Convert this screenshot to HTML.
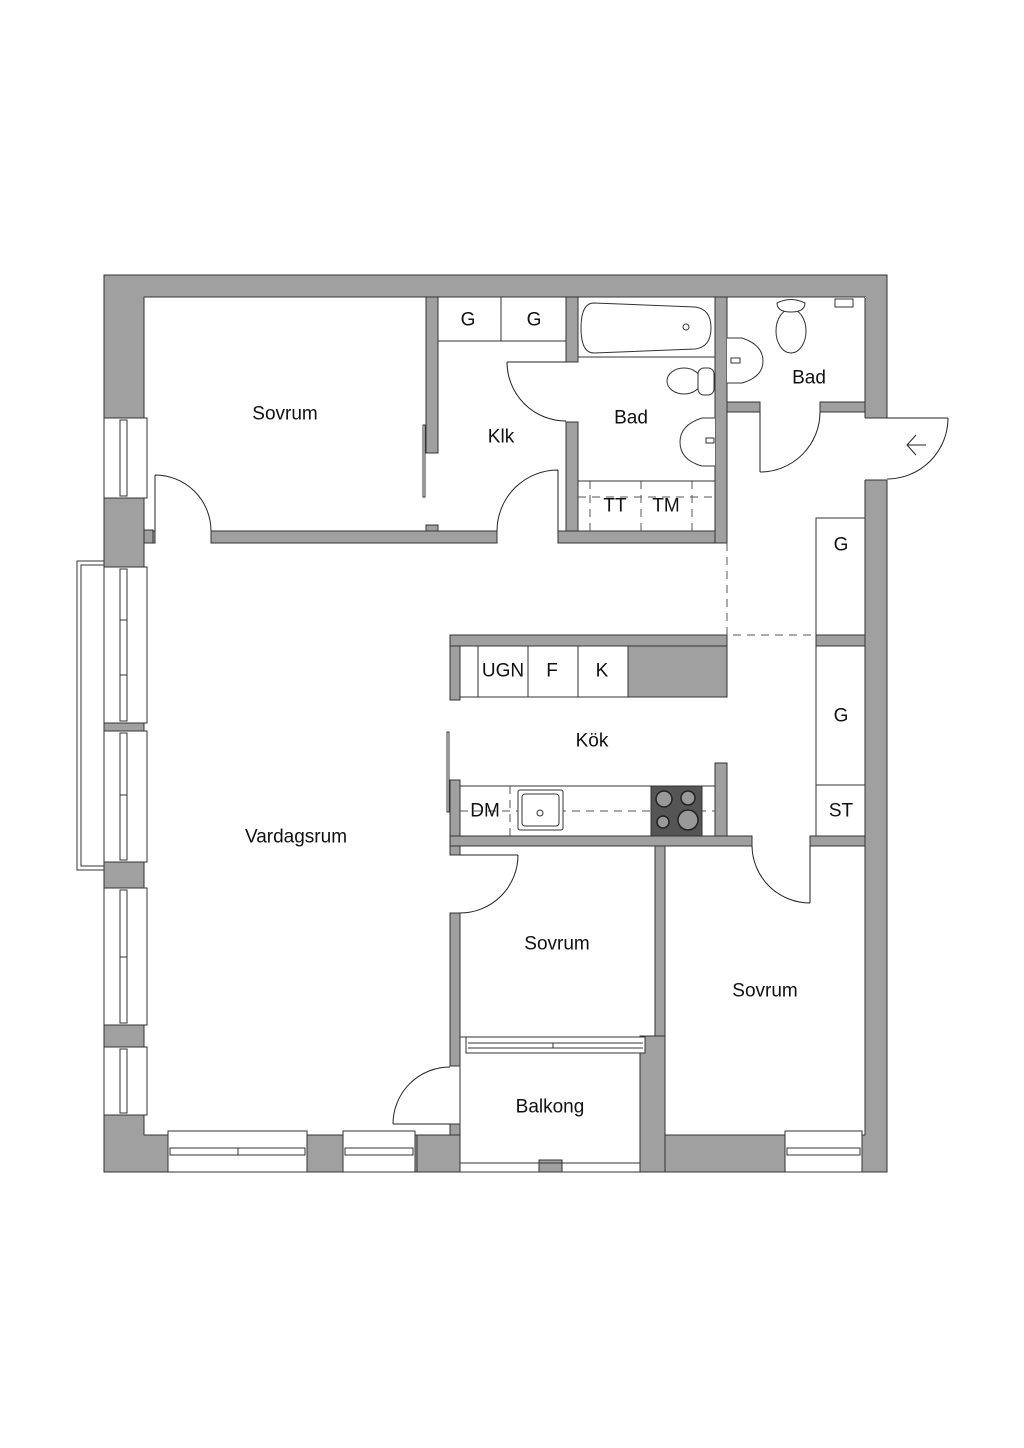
<!DOCTYPE html>
<html><head><meta charset="utf-8"><style>
html,body{margin:0;padding:0;background:#fff}
svg{display:block}
text{font-family:"Liberation Sans","DejaVu Sans",sans-serif;font-size:19px;fill:#111;text-anchor:middle;dominant-baseline:central}
</style></head><body>
<svg width="1024" height="1448" viewBox="0 0 1024 1448" xmlns="http://www.w3.org/2000/svg">
<g stroke="#333" stroke-width="1">
<!-- outer walls -->
<rect x="104" y="275" width="783" height="897" fill="#a0a0a0"/>
<rect x="144" y="297" width="721" height="838" fill="#fff"/>
<rect x="865" y="297" width="1" height="1" fill="#fff" stroke="none"/>
<!-- balcony area -->
<rect x="460" y="1037" width="180" height="135" fill="#fff"/>
<!-- entrance opening -->
<rect x="864" y="418" width="24" height="62" fill="#fff" stroke="none"/>
<line x1="865" y1="418" x2="887" y2="418"/><line x1="865" y1="480" x2="887" y2="480"/>
<!-- interior walls -->
<g fill="#a0a0a0">
<rect x="426" y="297" width="12" height="156"/>
<rect x="211" y="531" width="286" height="12"/>
<rect x="426" y="525" width="12" height="6"/>
<rect x="144" y="531" width="11" height="12"/>
<rect x="566" y="297" width="12" height="65"/>
<rect x="566" y="422" width="12" height="121"/>
<rect x="558" y="531" width="169" height="12"/>
<rect x="715" y="297" width="12" height="246"/>
<rect x="727" y="402" width="33" height="10"/>
<rect x="820" y="402" width="45" height="10"/>
<rect x="450" y="635" width="277" height="11"/>
<rect x="450" y="646" width="10" height="54"/>
<rect x="628" y="646" width="99" height="51"/>
<rect x="816" y="635" width="49" height="11"/>
<rect x="450" y="780" width="10" height="75"/>
<rect x="715" y="763" width="12" height="73"/>
<rect x="450" y="836" width="302" height="10"/>
<rect x="810" y="836" width="55" height="10"/>
<rect x="450" y="913" width="10" height="153"/>
<rect x="450" y="1124" width="10" height="48"/>
<rect x="417" y="1135" width="43" height="37"/>
<rect x="655" y="846" width="10" height="190"/>
<rect x="640" y="1036" width="25" height="136"/>
<rect x="539" y="1160" width="23" height="12"/>
</g>
<!-- balcony window & railing -->
<rect x="466" y="1037" width="179" height="16" fill="#fff"/>
<line x1="468" y1="1043" x2="643" y2="1043"/><line x1="468" y1="1048" x2="643" y2="1048"/><line x1="553" y1="1043" x2="553" y2="1048"/>
<line x1="460" y1="1163" x2="640" y2="1163"/>
<!-- left windows -->
<g fill="#fff">
<rect x="104" y="418" width="43" height="80"/>
<rect x="104" y="567" width="43" height="156"/>
<rect x="104" y="731" width="43" height="131"/>
<rect x="104" y="888" width="43" height="137"/>
<rect x="104" y="1047" width="43" height="68"/>
<rect x="120" y="420" width="7" height="76"/>
<rect x="120" y="569" width="7" height="152"/>
<rect x="120" y="733" width="7" height="127"/>
<rect x="120" y="890" width="7" height="133"/>
<rect x="120" y="1049" width="7" height="64"/>
<rect x="144" y="530" width="9" height="13" fill="#a0a0a0"/>
</g>
<g>
<line x1="120" y1="620" x2="127" y2="620"/><line x1="120" y1="675" x2="127" y2="675"/>
<line x1="120" y1="795" x2="127" y2="795"/>
<line x1="120" y1="957" x2="127" y2="957"/>
</g>
<!-- outside frame -->
<polyline points="104,561 77,561 77,870 104,870" fill="none"/>
<polyline points="104,565 81,565 81,866 104,866" fill="none"/>
<!-- bottom windows -->
<g fill="#fff">
<rect x="168" y="1131" width="139" height="41"/>
<rect x="343" y="1131" width="72" height="41"/>
<rect x="785" y="1131" width="77" height="41"/>
</g>
<g fill="none">
<rect x="170" y="1148" width="135" height="7"/><line x1="238" y1="1148" x2="238" y2="1155"/>
<rect x="345" y="1148" width="68" height="7"/>
<rect x="787" y="1148" width="73" height="7"/>
</g>
<!-- doors -->
<g fill="none" stroke="#222">
<path d="M155,475 L155,531 M155,475 A56,56 0 0 1 211,531"/>
<path d="M558,470 L558,531 M558,470 A61,61 0 0 0 497,531"/>
<path d="M507,362 L566,362 M507,362 A59,59 0 0 0 566,421"/>
<path d="M760,412 L760,472 M760,472 A60,60 0 0 0 820,412"/>
<path d="M887,418 L948,418 M948,418 A61,61 0 0 1 887,479"/>
<path d="M810,846 L810,903 M810,903 A58,58 0 0 1 752,846"/>
<path d="M460,855 L518,855 M518,855 A58,58 0 0 1 460,913"/>
<path d="M393,1124 L450,1124 M393,1124 A57,57 0 0 1 450,1067"/>
<path d="M908,445 L926,445 M916,435 L907,445 L916,455"/>
</g>
<!-- sliding door lines -->
<rect x="423" y="425" width="2" height="72" fill="#fff"/>
<rect x="447" y="732" width="2" height="80" fill="#fff"/>
<!-- cabinets -->
<g fill="#fff">
<rect x="438" y="297" width="128" height="44"/>
<line x1="501" y1="297" x2="501" y2="341"/>
<rect x="816" y="518" width="49" height="117"/>
<rect x="816" y="646" width="49" height="139"/>
<rect x="816" y="785" width="49" height="51"/>
<rect x="460" y="646" width="168" height="51"/>
<line x1="478" y1="646" x2="478" y2="697"/><line x1="528" y1="646" x2="528" y2="697"/><line x1="578" y1="646" x2="578" y2="697"/>
<rect x="460" y="786" width="255" height="50"/>
</g>
<!-- dashed lines -->
<g stroke="#555" stroke-dasharray="8,6" fill="none">
<path d="M727,543 L727,635 L816,635"/>
<path d="M460,811 L715,811"/>
<path d="M510,786 L510,836"/>
<path d="M578,497 L715,497"/>
<path d="M590,481 L590,531 M641,481 L641,531 M692,481 L692,531"/>
</g>
<line x1="578" y1="481" x2="715" y2="481"/>
<line x1="578" y1="357" x2="715" y2="357"/>
<!-- sink -->
<rect x="518" y="790" width="45" height="40" rx="2" fill="#fff"/>
<rect x="522" y="794" width="37" height="32" rx="3" fill="#fff"/>
<circle cx="540" cy="813" r="3" fill="#fff"/>
<!-- stove -->
<rect x="651" y="786" width="51" height="50" fill="#555"/>
<g fill="#999" stroke="#222" stroke-width="1.5">
<circle cx="664" cy="799" r="8"/><circle cx="688" cy="798" r="7"/>
<circle cx="663" cy="822" r="6"/><circle cx="688" cy="820" r="10"/>
</g>
<!-- bathtub -->
<path d="M594,303 L695,307 Q711,309 711,328 Q711,347 695,349 L594,353 Q581,353 581,328 Q581,303 594,303 Z" fill="#fff"/>
<circle cx="686" cy="327" r="3" fill="#fff"/>
<!-- toilet middle bad -->
<ellipse cx="684" cy="381" rx="17" ry="13" fill="#fff"/>
<rect x="698" y="368" width="16" height="27" rx="6" fill="#fff"/>
<!-- sink middle bad -->
<path d="M715,418 L702,418 Q680,425 680,442 Q680,460 702,466 L715,466" fill="#fff"/>
<path d="M706,438 L714,438 L714,443 L706,443 Z" fill="#fff"/>
<!-- right bad toilet -->
<ellipse cx="791" cy="331" rx="15" ry="22" fill="#fff"/>
<path d="M777,303 Q791,296 805,303 Q805,312 791,312 Q777,312 777,303 Z" fill="#fff"/>
<!-- right bad sink -->
<path d="M727,338 L742,338 Q763,345 763,361 Q763,377 742,383 L727,383" fill="#fff"/>
<path d="M731,358 L740,358 L740,363 L731,363 Z" fill="#fff"/>
<rect x="835" y="299" width="18" height="8" fill="#fff"/>
</g>
<!-- labels -->
<text x="285" y="414">Sovrum</text>
<text x="501" y="437">Klk</text>
<text x="631" y="418">Bad</text>
<text x="809" y="378">Bad</text>
<text x="468" y="320">G</text>
<text x="534" y="320">G</text>
<text x="841" y="545">G</text>
<text x="841" y="716">G</text>
<text x="841" y="811">ST</text>
<text x="503" y="671">UGN</text>
<text x="552" y="671">F</text>
<text x="602" y="671">K</text>
<text x="592" y="741">Kök</text>
<text x="485" y="811">DM</text>
<text x="615" y="506">TT</text>
<text x="666" y="506">TM</text>
<text x="296" y="837">Vardagsrum</text>
<text x="557" y="944">Sovrum</text>
<text x="765" y="991">Sovrum</text>
<text x="550" y="1107">Balkong</text>
</svg>
</body></html>
